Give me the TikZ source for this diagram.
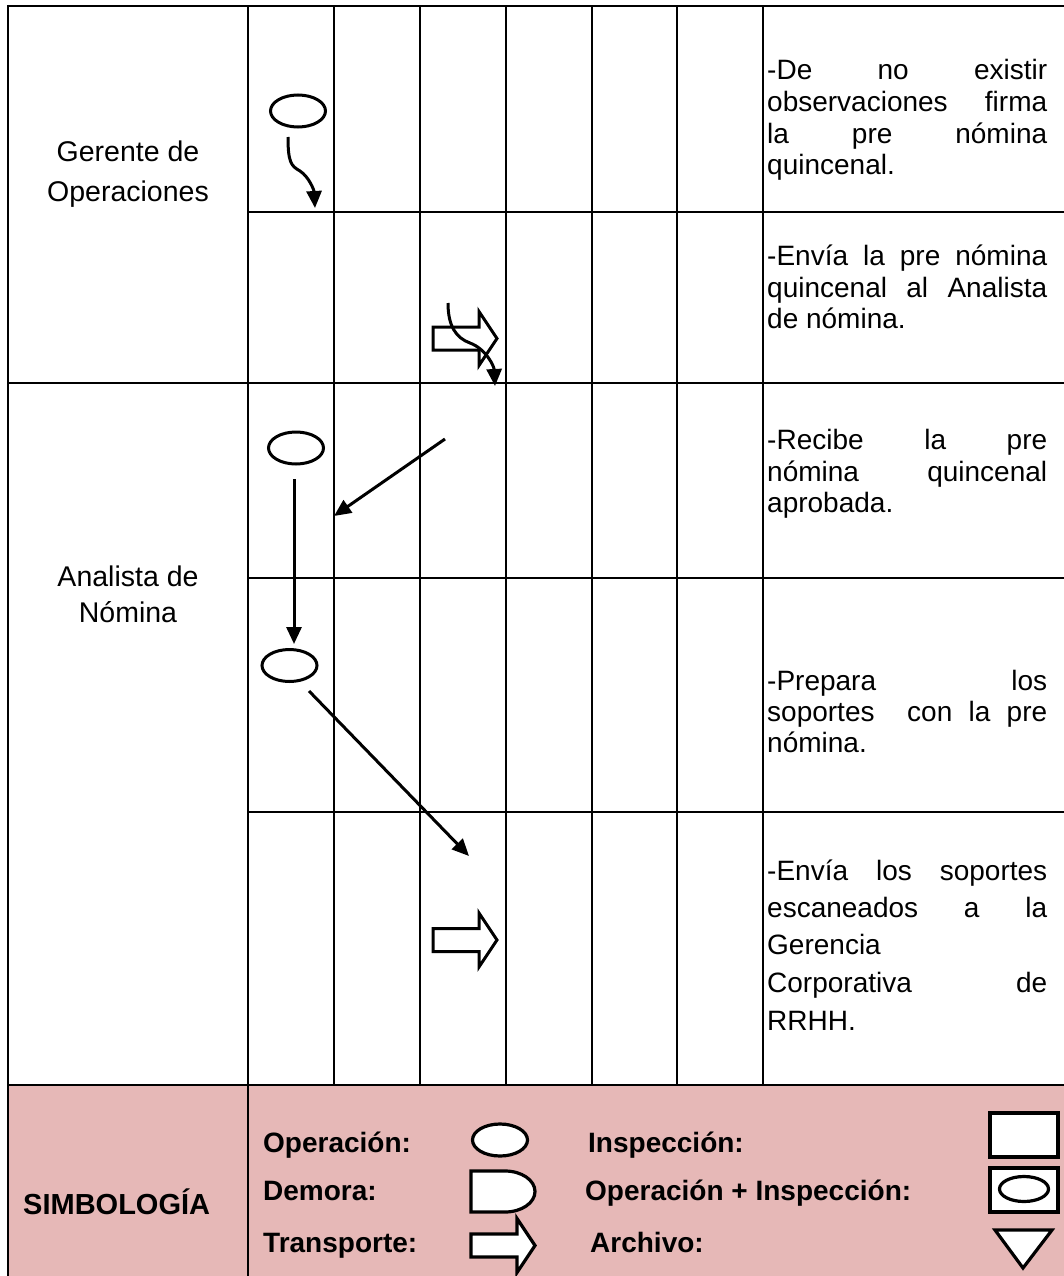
\documentclass[tikz,border=0pt]{standalone}
\usepackage{fontspec}
\setmainfont{Liberation Sans}
\usetikzlibrary{shapes.geometric,arrows.meta}
\definecolor{pinkbg}{RGB}{230,184,183}
\tikzset{
  transp/.pic={\path[pic actions] (0,-11.5) -- (46,-11.5) -- (46,-27) -- (64,0) -- (46,27) -- (46,11.5) -- (0,11.5) -- cycle;}
}
\begin{document}
\begin{tikzpicture}[x=1pt,y=-1pt,
  grid/.style={line width=2pt},
  flow/.style={line width=3pt,-{Triangle[length=17pt,width=15pt]}},
  op/.style={ellipse,draw,line width=3pt,minimum width=55pt,minimum height=32pt,inner sep=0pt},
  desc/.style={anchor=base west,inner sep=0pt,font=\fontsize{28}{34}\selectfont},
  lab/.style={anchor=base,inner sep=0pt,font=\fontsize{28.5}{34}\selectfont},
  leg/.style={anchor=base west,inner sep=0pt,font=\bfseries\fontsize{28}{33}\selectfont},
  legsym/.style={draw,fill=white,line width=3.2pt},
]
\useasboundingbox (0,0) rectangle (1064,1276);
% legend background
\fill[pinkbg] (8,1085) rectangle (1064,1276);
% grid
\draw[grid] (8,6) -- (1064,6);
\draw[grid] (248,212) -- (1064,212);
\draw[grid] (8,383) -- (1064,383);
\draw[grid] (248,578) -- (1064,578);
\draw[grid] (248,812) -- (1064,812);
\draw[grid] (8,1085) -- (1064,1085);
\draw[grid] (8,5) -- (8,1276);
\draw[grid] (248,6) -- (248,1276);
\foreach \xx in {334,420,506,592,677,763} \draw[grid] (\xx,6) -- (\xx,1085);
% left labels
\node[lab] (g1) at (128,162) {Gerente de};
\node[lab] (g2) at (128,201) {Operaciones};
\node[lab] (n1) at (128,586) {Analista de};
\node[lab] (n2) at (128,622) {Nómina};
% descriptions
\node[desc] (r1a) at (767,80) {\makebox[280pt][s]{-De no existir}};
\node[desc] (r1b) at (767,112) {\makebox[280pt][s]{observaciones firma}};
\node[desc] (r1c) at (767,143.5) {\makebox[280pt][s]{la pre nómina}};
\node[desc] (r1d) at (767,175) {quincenal.};
\node[desc] (r2a) at (767,265) {\makebox[280pt][s]{-Envía la pre nómina}};
\node[desc] (r2b) at (767,297) {\makebox[280pt][s]{quincenal al Analista}};
\node[desc] (r2c) at (767,328) {de nómina.};
\node[desc] (r3a) at (767,449) {\makebox[280pt][s]{-Recibe la pre}};
\node[desc] (r3b) at (767,481) {\makebox[280pt][s]{nómina quincenal}};
\node[desc] (r3c) at (767,512) {aprobada.};
\node[desc] (r4a) at (767,690) {\makebox[280pt][s]{-Prepara los}};
\node[desc] (r4b) at (767,721) {\makebox[280pt][s]{soportes\ \ con la pre}};
\node[desc] (r4c) at (767,752) {nómina.};
\node[desc] (r5a) at (767,880) {\makebox[280pt][s]{-Envía los soportes}};
\node[desc] (r5b) at (767,917) {\makebox[280pt][s]{escaneados a la}};
\node[desc] (r5c) at (767,954) {Gerencia};
\node[desc] (r5d) at (767,992) {\makebox[280pt][s]{Corporativa de}};
\node[desc] (r5e) at (767,1030) {RRHH.};
% flow symbols
\node[op] (op1) at (298,111) {};
\node[op] (op2) at (296,448) {};
\node[op] (op3) at (289.5,665.5) {};
\pic[draw,line width=3pt] at (433,338.5) {transp};
\pic[draw,line width=3pt] at (433,940) {transp};
% connectors
\coordinate (w1s) at (288,137);
\coordinate (w1e) at (315,208);
\draw[flow] (w1s) .. controls (288,162) and (291,166) .. (300,171) .. controls (309,177) and (314,190) .. (w1e);
\coordinate (w2s) at (448,303);
\coordinate (w2e) at (495,386);
\draw[flow] (w2s) .. controls (448,326) and (456,338) .. (470,343) .. controls (486,349) and (494,366) .. (w2e);
\coordinate (a1s) at (445,439);
\coordinate (a1e) at (334,516);
\draw[flow] (a1s) -- (a1e);
\coordinate (a2s) at (294,479);
\coordinate (a2e) at (294,644);
\draw[flow] (a2s) -- (a2e);
\coordinate (a3s) at (309,691);
\coordinate (a3e) at (469,856);
\draw[flow] (a3s) -- (a3e);
% legend
\node[leg,font=\bfseries\fontsize{29}{34}\selectfont] (sim) at (23,1214) {SIMBOLOGÍA};
\node[leg] (l1) at (263,1152) {Operación:};
\node[leg] (l2) at (263,1200) {Demora:};
\node[leg] (l3) at (263,1252) {Transporte:};
\node[leg] (l4) at (588,1152) {Inspección:};
\node[leg] (l5) at (585,1200) {Operación + Inspección:};
\node[leg] (l6) at (590,1252) {Archivo:};
\node[op,fill=white,line width=3.2pt] (lop) at (500,1140) {};
\draw[legsym] (471,1171) -- (505,1171) arc[start angle=-90,end angle=90,x radius=30,y radius=20.5] -- (471,1212) -- cycle;
\pic[draw,fill=white,line width=3.2pt] at (471,1245.5) {transp};
\draw[legsym] (990,1113) rectangle (1058,1157);
\draw[legsym] (990,1168) rectangle (1058,1212);
\node[ellipse,draw,fill=white,line width=3.2pt,minimum width=49pt,minimum height=25pt,inner sep=0pt] (lopi) at (1024,1189) {};
\draw[legsym] (995,1230) -- (1052,1230) -- (1023,1268) -- cycle;
\end{tikzpicture}
\end{document}
